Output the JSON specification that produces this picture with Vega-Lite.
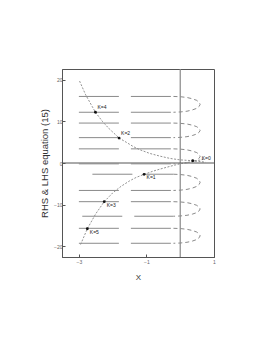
{
  "$schema": "https://vega.github.io/schema/vega-lite/v6.json",
  "width": 152,
  "height": 188,
  "autosize": {"type": "none"},
  "padding": {"left": 62, "top": 69, "right": 59, "bottom": 96},
  "background": "white",
  "config": {
    "font": "Liberation Sans",
    "view": {"stroke": "#555", "strokeWidth": 1},
    "axis": {"domainColor": "#555", "tickColor": "#555", "labelColor": "#666", "labelFontSize": 5, "grid": false, "tickSize": -3, "titleFontWeight": "normal", "titleColor": "#333"}
  },
  "datasets": {
    "hlines": [
      {"s": "h1a", "x": -3, "y": 16.0}, {"s": "h1a", "x": -0.2, "y": 16.0},
      {"s": "h1b", "x": -3, "y": 12.2}, {"s": "h1b", "x": -0.2, "y": 12.2},
      {"s": "h2a", "x": -3, "y": 9.6}, {"s": "h2a", "x": -0.2, "y": 9.6},
      {"s": "h2b", "x": -3, "y": 6.1}, {"s": "h2b", "x": -0.2, "y": 6.1},
      {"s": "h3a", "x": -3, "y": 3.4}, {"s": "h3a", "x": -0.2, "y": 3.4},
      {"s": "h3b", "x": -3, "y": -0.2}, {"s": "h3b", "x": -0.2, "y": -0.2},
      {"s": "h4a", "x": -2.6, "y": -2.7}, {"s": "h4a", "x": -0.2, "y": -2.7},
      {"s": "h4b", "x": -3, "y": -6.6}, {"s": "h4b", "x": -0.2, "y": -6.6},
      {"s": "h5a", "x": -3, "y": -9.3}, {"s": "h5a", "x": -0.2, "y": -9.3},
      {"s": "h5b", "x": -2.9, "y": -12.8}, {"s": "h5b", "x": -0.2, "y": -12.8},
      {"s": "h6a", "x": -3, "y": -15.7}, {"s": "h6a", "x": -0.2, "y": -15.7},
      {"s": "h6b", "x": -3, "y": -19.3}, {"s": "h6b", "x": -0.2, "y": -19.3}
    ],
    "arcs": [
      {"s": "a1", "i": 0, "x": -0.2, "y": 16.0}, {"s": "a1", "i": 1, "x": 0.0, "y": 15.94}, {"s": "a1", "i": 2, "x": 0.2, "y": 15.75}, {"s": "a1", "i": 3, "x": 0.36, "y": 15.44}, {"s": "a1", "i": 4, "x": 0.49, "y": 15.05}, {"s": "a1", "i": 5, "x": 0.56, "y": 14.59}, {"s": "a1", "i": 6, "x": 0.59, "y": 14.1}, {"s": "a1", "i": 7, "x": 0.56, "y": 13.61}, {"s": "a1", "i": 8, "x": 0.49, "y": 13.15}, {"s": "a1", "i": 9, "x": 0.36, "y": 12.76}, {"s": "a1", "i": 10, "x": 0.2, "y": 12.45}, {"s": "a1", "i": 11, "x": 0.0, "y": 12.27}, {"s": "a1", "i": 12, "x": -0.2, "y": 12.2},
      {"s": "a2", "i": 0, "x": -0.2, "y": 9.6}, {"s": "a2", "i": 1, "x": 0.0, "y": 9.54}, {"s": "a2", "i": 2, "x": 0.2, "y": 9.37}, {"s": "a2", "i": 3, "x": 0.36, "y": 9.09}, {"s": "a2", "i": 4, "x": 0.49, "y": 8.73}, {"s": "a2", "i": 5, "x": 0.56, "y": 8.3}, {"s": "a2", "i": 6, "x": 0.59, "y": 7.85}, {"s": "a2", "i": 7, "x": 0.56, "y": 7.4}, {"s": "a2", "i": 8, "x": 0.49, "y": 6.97}, {"s": "a2", "i": 9, "x": 0.36, "y": 6.61}, {"s": "a2", "i": 10, "x": 0.2, "y": 6.33}, {"s": "a2", "i": 11, "x": 0.0, "y": 6.16}, {"s": "a2", "i": 12, "x": -0.2, "y": 6.1},
      {"s": "a3", "i": 0, "x": -0.2, "y": 3.4}, {"s": "a3", "i": 1, "x": 0.0, "y": 3.34}, {"s": "a3", "i": 2, "x": 0.2, "y": 3.16}, {"s": "a3", "i": 3, "x": 0.36, "y": 2.87}, {"s": "a3", "i": 4, "x": 0.49, "y": 2.5}, {"s": "a3", "i": 5, "x": 0.56, "y": 2.07}, {"s": "a3", "i": 6, "x": 0.59, "y": 1.6}, {"s": "a3", "i": 7, "x": 0.56, "y": 1.13}, {"s": "a3", "i": 8, "x": 0.49, "y": 0.7}, {"s": "a3", "i": 9, "x": 0.36, "y": 0.33}, {"s": "a3", "i": 10, "x": 0.2, "y": 0.04}, {"s": "a3", "i": 11, "x": 0.0, "y": -0.14}, {"s": "a3", "i": 12, "x": -0.2, "y": -0.2},
      {"s": "a4", "i": 0, "x": -0.2, "y": -2.7}, {"s": "a4", "i": 1, "x": 0.0, "y": -2.77}, {"s": "a4", "i": 2, "x": 0.2, "y": -2.96}, {"s": "a4", "i": 3, "x": 0.36, "y": -3.27}, {"s": "a4", "i": 4, "x": 0.49, "y": -3.68}, {"s": "a4", "i": 5, "x": 0.56, "y": -4.15}, {"s": "a4", "i": 6, "x": 0.59, "y": -4.65}, {"s": "a4", "i": 7, "x": 0.56, "y": -5.15}, {"s": "a4", "i": 8, "x": 0.49, "y": -5.62}, {"s": "a4", "i": 9, "x": 0.36, "y": -6.03}, {"s": "a4", "i": 10, "x": 0.2, "y": -6.34}, {"s": "a4", "i": 11, "x": 0.0, "y": -6.53}, {"s": "a4", "i": 12, "x": -0.2, "y": -6.6},
      {"s": "a5", "i": 0, "x": -0.2, "y": -9.3}, {"s": "a5", "i": 1, "x": 0.0, "y": -9.36}, {"s": "a5", "i": 2, "x": 0.2, "y": -9.53}, {"s": "a5", "i": 3, "x": 0.36, "y": -9.81}, {"s": "a5", "i": 4, "x": 0.49, "y": -10.18}, {"s": "a5", "i": 5, "x": 0.56, "y": -10.6}, {"s": "a5", "i": 6, "x": 0.59, "y": -11.05}, {"s": "a5", "i": 7, "x": 0.56, "y": -11.5}, {"s": "a5", "i": 8, "x": 0.49, "y": -11.93}, {"s": "a5", "i": 9, "x": 0.36, "y": -12.29}, {"s": "a5", "i": 10, "x": 0.2, "y": -12.57}, {"s": "a5", "i": 11, "x": 0.0, "y": -12.74}, {"s": "a5", "i": 12, "x": -0.2, "y": -12.8},
      {"s": "a6", "i": 0, "x": -0.2, "y": -15.7}, {"s": "a6", "i": 1, "x": 0.0, "y": -15.76}, {"s": "a6", "i": 2, "x": 0.2, "y": -15.94}, {"s": "a6", "i": 3, "x": 0.36, "y": -16.23}, {"s": "a6", "i": 4, "x": 0.49, "y": -16.6}, {"s": "a6", "i": 5, "x": 0.56, "y": -17.03}, {"s": "a6", "i": 6, "x": 0.59, "y": -17.5}, {"s": "a6", "i": 7, "x": 0.56, "y": -17.97}, {"s": "a6", "i": 8, "x": 0.49, "y": -18.4}, {"s": "a6", "i": 9, "x": 0.36, "y": -18.77}, {"s": "a6", "i": 10, "x": 0.2, "y": -19.06}, {"s": "a6", "i": 11, "x": 0.0, "y": -19.24}, {"s": "a6", "i": 12, "x": -0.2, "y": -19.3}
    ],
    "curves": [
      {"c": "upper", "x": -2.98, "y": 19.7}, {"c": "upper", "x": -2.8, "y": 16.4}, {"c": "upper", "x": -2.6, "y": 13.5}, {"c": "upper", "x": -2.51, "y": 12.2}, {"c": "upper", "x": -2.3, "y": 9.97}, {"c": "upper", "x": -2.1, "y": 8.2}, {"c": "upper", "x": -1.9, "y": 6.7}, {"c": "upper", "x": -1.81, "y": 6.0}, {"c": "upper", "x": -1.6, "y": 5.0}, {"c": "upper", "x": -1.4, "y": 4.0}, {"c": "upper", "x": -1.2, "y": 3.2}, {"c": "upper", "x": -0.9, "y": 2.3}, {"c": "upper", "x": -0.6, "y": 1.65}, {"c": "upper", "x": -0.3, "y": 1.1}, {"c": "upper", "x": 0.0, "y": 0.75}, {"c": "upper", "x": 0.37, "y": 0.55}, {"c": "upper", "x": 0.75, "y": 0.2},
      {"c": "lower", "x": -2.95, "y": -19.6}, {"c": "lower", "x": -2.75, "y": -15.8}, {"c": "lower", "x": -2.5, "y": -12.2}, {"c": "lower", "x": -2.25, "y": -9.3}, {"c": "lower", "x": -2.0, "y": -7.2}, {"c": "lower", "x": -1.75, "y": -5.6}, {"c": "lower", "x": -1.5, "y": -4.3}, {"c": "lower", "x": -1.3, "y": -3.45}, {"c": "lower", "x": -1.07, "y": -2.73}, {"c": "lower", "x": -0.8, "y": -1.95}, {"c": "lower", "x": -0.59, "y": -1.45}, {"c": "lower", "x": -0.3, "y": -0.8}, {"c": "lower", "x": 0.0, "y": -0.17}, {"c": "lower", "x": 0.4, "y": 0.4}, {"c": "lower", "x": 0.74, "y": 0.96}
    ],
    "pts": [
      {"k": "K=4", "x": -2.51, "y": 12.2},
      {"k": "K=2", "x": -1.81, "y": 6.0},
      {"k": "K=0", "x": 0.37, "y": 0.55},
      {"k": "K=1", "x": -1.07, "y": -2.73},
      {"k": "K=3", "x": -2.25, "y": -9.3},
      {"k": "K=5", "x": -2.75, "y": -15.8}
    ]
  },
  "layer": [
    {
      "data": {"name": "curves"},
      "mark": {"type": "line", "color": "#777", "strokeWidth": 0.8, "strokeDash": [2, 1.5]},
      "encoding": {
        "x": {"field": "x", "type": "quantitative", "scale": {"domain": [-3.5, 1], "nice": false, "zero": false},
          "axis": {"values": [-3, -2.5, -2, -1.5, -1, -0.5, 0, 0.5, 1], "labelExpr": "datum.value % 1 === 0 ? datum.label : ''", "labelPadding": 5, "title": "X", "titleFontSize": 8, "titlePadding": 9, "labelFlush": false}},
        "y": {"field": "y", "type": "quantitative", "scale": {"domain": [-22.6, 22.6], "nice": false, "zero": false},
          "axis": {"values": [-20, -17.5, -15, -12.5, -10, -7.5, -5, -2.5, 0, 2.5, 5, 7.5, 10, 12.5, 15, 17.5, 20], "labelExpr": "datum.value % 5 === 0 ? datum.label : ''", "labelPadding": 3, "title": "RHS & LHS equation (15)", "titleFontSize": 9.5, "titlePadding": 4, "labelFlush": false}},
        "detail": {"field": "c"}
      }
    },
    {
      "data": {"values": [{"x": 0}]},
      "mark": {"type": "rule", "color": "#888", "strokeWidth": 1.2},
      "encoding": {"x": {"field": "x", "type": "quantitative", "scale": {"domain": [-3.5, 1], "nice": false, "zero": false}}}
    },
    {
      "data": {"values": [{"y": 0}]},
      "mark": {"type": "rule", "color": "#555", "strokeWidth": 1},
      "encoding": {"y": {"field": "y", "type": "quantitative", "scale": {"domain": [-22.6, 22.6], "nice": false, "zero": false}}}
    },
    {
      "data": {"name": "hlines"},
      "mark": {"type": "line", "color": "#8a8a8a", "strokeWidth": 1, "strokeDash": [40, 12]},
      "encoding": {
        "x": {"field": "x", "type": "quantitative"},
        "y": {"field": "y", "type": "quantitative"},
        "detail": {"field": "s"}
      }
    },
    {
      "data": {"name": "arcs"},
      "mark": {"type": "line", "color": "#8a8a8a", "strokeWidth": 1, "strokeDash": [4, 3]},
      "encoding": {
        "x": {"field": "x", "type": "quantitative"},
        "y": {"field": "y", "type": "quantitative"},
        "detail": {"field": "s"},
        "order": {"field": "i", "type": "quantitative"}
      }
    },
    {
      "data": {"name": "pts"},
      "mark": {"type": "point", "filled": true, "color": "#111", "size": 8, "opacity": 1},
      "encoding": {
        "x": {"field": "x", "type": "quantitative"},
        "y": {"field": "y", "type": "quantitative"}
      }
    },
    {
      "data": {"name": "pts"},
      "transform": [{"filter": {"field": "k", "oneOf": ["K=4", "K=2"]}}],
      "mark": {"type": "text", "fontSize": 5, "color": "#222", "align": "left", "baseline": "middle", "dx": 2, "dy": -5},
      "encoding": {"x": {"field": "x", "type": "quantitative"}, "y": {"field": "y", "type": "quantitative"}, "text": {"field": "k"}}
    },
    {
      "data": {"name": "pts"},
      "transform": [{"filter": {"field": "k", "oneOf": ["K=0"]}}],
      "mark": {"type": "text", "fontSize": 5, "color": "#222", "align": "left", "baseline": "middle", "dx": 9, "dy": -3},
      "encoding": {"x": {"field": "x", "type": "quantitative"}, "y": {"field": "y", "type": "quantitative"}, "text": {"field": "k"}}
    },
    {
      "data": {"name": "pts"},
      "transform": [{"filter": {"field": "k", "oneOf": ["K=1", "K=3", "K=5"]}}],
      "mark": {"type": "text", "fontSize": 5, "color": "#222", "align": "left", "baseline": "middle", "dx": 2.5, "dy": 3},
      "encoding": {"x": {"field": "x", "type": "quantitative"}, "y": {"field": "y", "type": "quantitative"}, "text": {"field": "k"}}
    }
  ]
}
